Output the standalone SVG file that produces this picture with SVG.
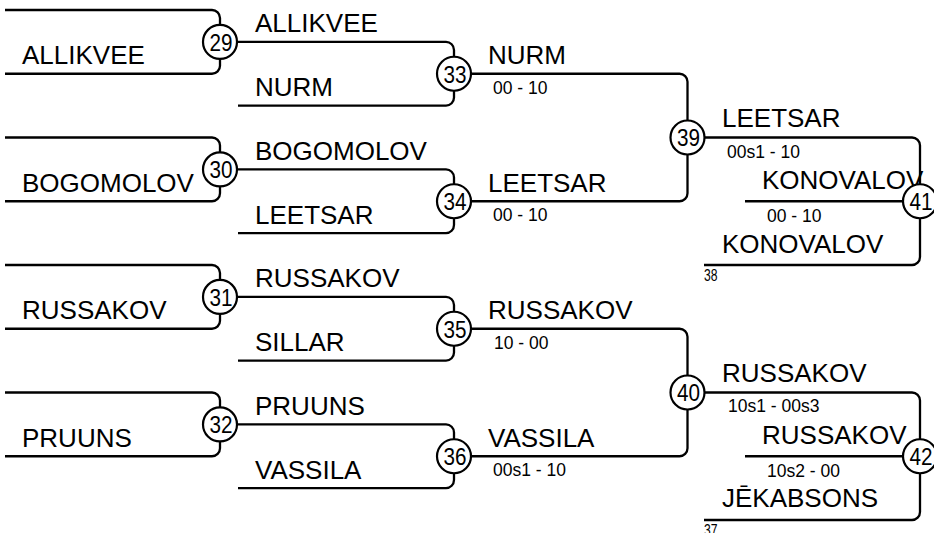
<svg xmlns="http://www.w3.org/2000/svg" width="934" height="533" viewBox="0 0 934 533">
<style>
.ln{fill:none;stroke:#000;stroke-width:2.3;stroke-linecap:butt}
.node circle{fill:#fff;stroke:#000;stroke-width:2.2}
text{font-family:"Liberation Sans",Arial,sans-serif;fill:#000}
.nm{font-size:26px}
.sc{font-size:17.5px}
.num{font-size:24.5px;text-anchor:middle}
.sm{font-size:17px}
</style>
<rect width="934" height="533" fill="#fff"/>
<g id="connectors">
<path class="ln" d="M5,10 H212 A8,8 0 0 1 220,18 V41.9 M5,73.75 H212 A8,8 0 0 0 220,65.75 V41.9"/>
<path class="ln" d="M5,137.5 H212 A8,8 0 0 1 220,145.5 V169.4 M5,201.25 H212 A8,8 0 0 0 220,193.25 V169.4"/>
<path class="ln" d="M5,265 H212 A8,8 0 0 1 220,273 V296.9 M5,328.75 H212 A8,8 0 0 0 220,320.75 V296.9"/>
<path class="ln" d="M5,392.5 H212 A8,8 0 0 1 220,400.5 V424.4 M5,456.25 H212 A8,8 0 0 0 220,448.25 V424.4"/>
<path class="ln" d="M220,41.9 H446 A8,8 0 0 1 454,49.9 V73.75 M238,105.6 H446 A8,8 0 0 0 454,97.6 V73.75"/>
<path class="ln" d="M220,169.4 H446 A8,8 0 0 1 454,177.4 V201.25 M238,233.1 H446 A8,8 0 0 0 454,225.1 V201.25"/>
<path class="ln" d="M220,296.9 H446 A8,8 0 0 1 454,304.9 V328.75 M238,360.6 H446 A8,8 0 0 0 454,352.6 V328.75"/>
<path class="ln" d="M220,424.4 H446 A8,8 0 0 1 454,432.4 V456.25 M238,488.1 H446 A8,8 0 0 0 454,480.1 V456.25"/>
<path class="ln" d="M454,73.75 H679.5 A8,8 0 0 1 687.5,81.75 V137.5 M454,201.25 H679.5 A8,8 0 0 0 687.5,193.25 V137.5"/>
<path class="ln" d="M454,328.75 H679.5 A8,8 0 0 1 687.5,336.75 V392.5 M454,456.25 H679.5 A8,8 0 0 0 687.5,448.25 V392.5"/>
<path class="ln" d="M687.5,137.5 H912 A8,8 0 0 1 920,145.5 V201.25 M745,201.25 H920 M704,265 H912 A8,8 0 0 0 920,257 V201.25"/>
<path class="ln" d="M687.5,392.5 H912 A8,8 0 0 1 920,400.5 V456.25 M745,456.25 H920 M704,520 H912 A8,8 0 0 0 920,512 V456.25"/>
</g>
<g id="labels">
<text class="nm" x="22" y="64.3">ALLIKVEE</text>
<text class="nm" x="22" y="191.8">BOGOMOLOV</text>
<text class="nm" x="22" y="319.3">RUSSAKOV</text>
<text class="nm" x="22" y="446.8">PRUUNS</text>
<text class="nm" x="255" y="32.4">ALLIKVEE</text>
<text class="nm" x="255" y="96.1">NURM</text>
<text class="nm" x="255" y="159.9">BOGOMOLOV</text>
<text class="nm" x="255" y="223.6">LEETSAR</text>
<text class="nm" x="255" y="287.4">RUSSAKOV</text>
<text class="nm" x="255" y="351.1">SILLAR</text>
<text class="nm" x="255" y="414.9">PRUUNS</text>
<text class="nm" x="255" y="478.6">VASSILA</text>
<text class="nm" x="488" y="64.3">NURM</text>
<text class="sc" x="493" y="93.8">00 - 10</text>
<text class="nm" x="488" y="191.8">LEETSAR</text>
<text class="sc" x="493" y="221.3">00 - 10</text>
<text class="nm" x="488" y="319.3">RUSSAKOV</text>
<text class="sc" x="494" y="348.8">10 - 00</text>
<text class="nm" x="488" y="446.8">VASSILA</text>
<text class="sc" x="493" y="476.3">00s1 - 10</text>
<text class="nm" x="722" y="127.3">LEETSAR</text>
<text class="sc" x="727" y="157.5">00s1 - 10</text>
<text class="nm" x="762" y="188.6">KONOVALOV</text>
<text class="sc" x="767" y="222.2">00 - 10</text>
<text class="nm" x="722" y="252.6">KONOVALOV</text>
<text class="sm" x="704" y="281" textLength="13.5" lengthAdjust="spacingAndGlyphs">38</text>
<text class="nm" x="722" y="382.3">RUSSAKOV</text>
<text class="sc" x="728" y="411.5">10s1 - 00s3</text>
<text class="nm" x="762" y="443.6">RUSSAKOV</text>
<text class="sc" x="767" y="476.5">10s2 - 00</text>
<text class="nm" x="722" y="507.3">JĒKABSONS</text>
<text class="sm" x="704" y="536" textLength="13.5" lengthAdjust="spacingAndGlyphs">37</text>
</g>
<g id="m29" class="node"><circle cx="220" cy="41.9" r="17"/><text class="num" x="221" y="50.7" textLength="23" lengthAdjust="spacingAndGlyphs">29</text></g>
<g id="m30" class="node"><circle cx="220" cy="169.4" r="17"/><text class="num" x="221" y="178.2" textLength="23" lengthAdjust="spacingAndGlyphs">30</text></g>
<g id="m31" class="node"><circle cx="220" cy="296.9" r="17"/><text class="num" x="221" y="305.7" textLength="23" lengthAdjust="spacingAndGlyphs">31</text></g>
<g id="m32" class="node"><circle cx="220" cy="424.4" r="17"/><text class="num" x="221" y="433.2" textLength="23" lengthAdjust="spacingAndGlyphs">32</text></g>
<g id="m33" class="node"><circle cx="454" cy="73.75" r="17"/><text class="num" x="455" y="82.6" textLength="23" lengthAdjust="spacingAndGlyphs">33</text></g>
<g id="m34" class="node"><circle cx="454" cy="201.25" r="17"/><text class="num" x="455" y="210.1" textLength="23" lengthAdjust="spacingAndGlyphs">34</text></g>
<g id="m35" class="node"><circle cx="454" cy="328.75" r="17"/><text class="num" x="455" y="337.6" textLength="23" lengthAdjust="spacingAndGlyphs">35</text></g>
<g id="m36" class="node"><circle cx="454" cy="456.25" r="17"/><text class="num" x="455" y="465.1" textLength="23" lengthAdjust="spacingAndGlyphs">36</text></g>
<g id="m39" class="node"><circle cx="687.5" cy="137.5" r="17"/><text class="num" x="688.5" y="146.3" textLength="23" lengthAdjust="spacingAndGlyphs">39</text></g>
<g id="m40" class="node"><circle cx="687.5" cy="392.5" r="17"/><text class="num" x="688.5" y="401.3" textLength="23" lengthAdjust="spacingAndGlyphs">40</text></g>
<g id="m41" class="node"><circle cx="920" cy="201.25" r="17"/><text class="num" x="921" y="210.1" textLength="23" lengthAdjust="spacingAndGlyphs">41</text></g>
<g id="m42" class="node"><circle cx="920" cy="456.25" r="17"/><text class="num" x="921" y="465.1" textLength="23" lengthAdjust="spacingAndGlyphs">42</text></g>
</svg>
